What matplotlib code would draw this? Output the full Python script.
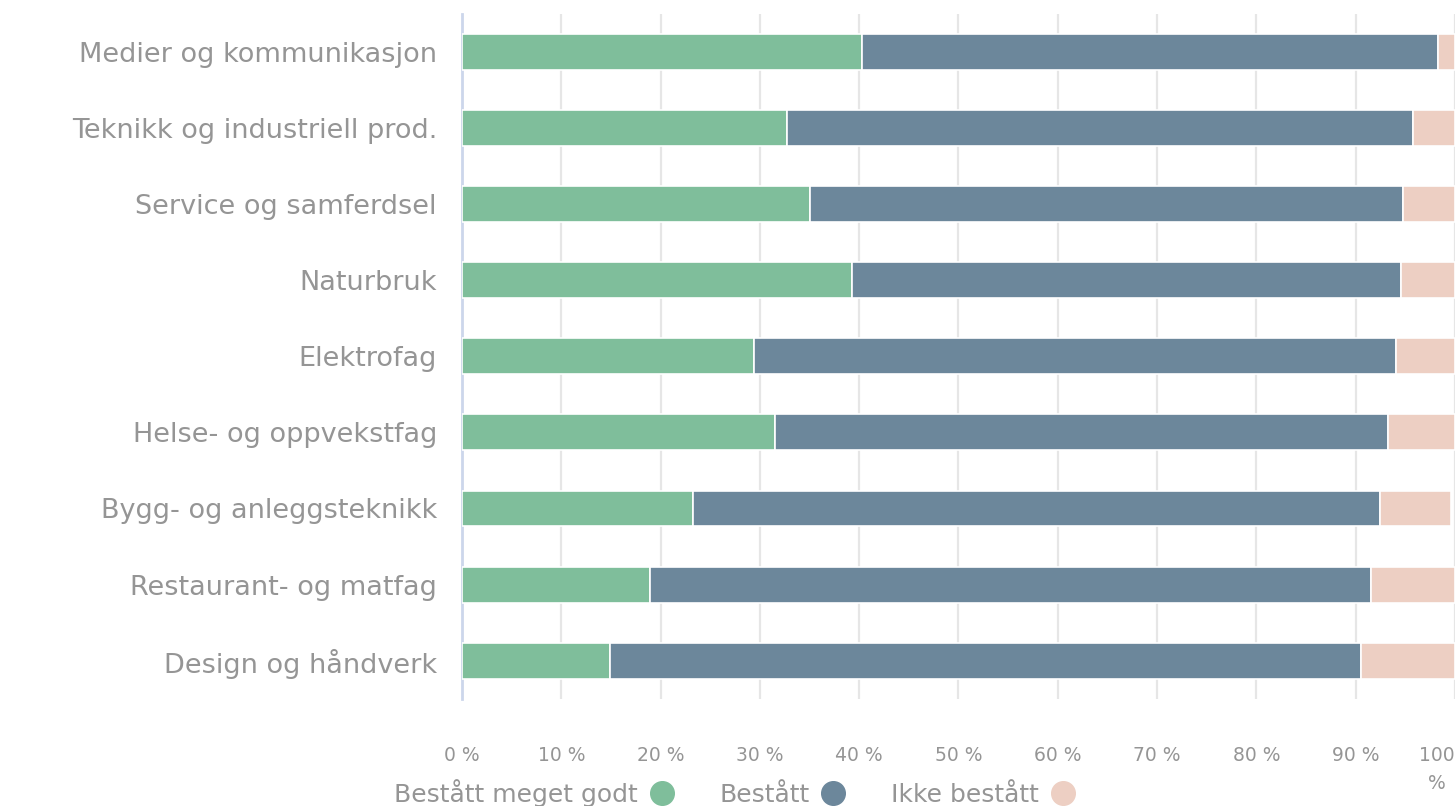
import matplotlib.pyplot as plt
from matplotlib.lines import Line2D

# Kategorier (ovenfra og ned) og andeler i prosent
categories = [
    "Medier og kommunikasjon",
    "Teknikk og industriell prod.",
    "Service og samferdsel",
    "Naturbruk",
    "Elektrofag",
    "Helse- og oppvekstfag",
    "Bygg- og anleggsteknikk",
    "Restaurant- og matfag",
    "Design og håndverk",
]
meget_godt = [40.3, 32.7, 35.0, 39.3, 29.4, 31.5, 23.3, 18.9, 14.9]
bestatt = [58.0, 63.1, 59.8, 55.3, 64.7, 61.8, 69.1, 72.6, 75.6]
ikke_bestatt = [1.7, 4.2, 5.2, 5.4, 5.9, 6.7, 7.2, 8.5, 9.5]

series_names = ["Bestått meget godt", "Bestått", "Ikke bestått"]
colors = ["#7fbe9b", "#6c879b", "#edcfc3"]
tick_values = list(range(0, 101, 10))
tick_labels = [f"{v} %" for v in tick_values[:-1]] + ["100\n%"]

text_color = "#959595"

fig = plt.figure(figsize=(14.55, 8.06), dpi=100)
ax = fig.add_axes([0.3175, 0.133, 0.6825, 0.85])

y = list(range(len(categories)))
left = [0.0] * len(categories)
for vals, col in zip([meget_godt, bestatt, ikke_bestatt], colors):
    ax.barh(y, vals, left=left, height=0.47, color=col, edgecolor="white",
            linewidth=1.2, zorder=3)
    left = [l + v for l, v in zip(left, vals)]

ax.set_xlim(0, 100)
ax.set_ylim(len(categories) - 0.5, -0.5)

ax.set_yticks(y)
ax.set_yticklabels(categories, fontsize=19.5, color=text_color)
ax.tick_params(axis="y", length=0, pad=18)

ax.set_xticks(tick_values)
ax.set_xticklabels(tick_labels, fontsize=13.5, color=text_color,
                   multialignment="center", linespacing=1.6)
ax.get_xticklabels()[-1].set_horizontalalignment("right")
ax.tick_params(axis="x", length=0, pad=34)

ax.grid(axis="x", color="#e6e6e6", linewidth=1.6, zorder=0)
for side in ["top", "right", "bottom"]:
    ax.spines[side].set_visible(False)
ax.spines["left"].set_color("#ccd6eb")
ax.spines["left"].set_linewidth(2)

handles = [Line2D([], [], linestyle="none", marker="o", markersize=17,
                  markerfacecolor=c, markeredgecolor=c) for c in colors]
fig.legend(handles, series_names, loc="center", bbox_to_anchor=(0.505, 0.016),
           ncol=3, frameon=False, markerfirst=False, fontsize=18,
           labelcolor=text_color, handlelength=1.0, handletextpad=0.45,
           columnspacing=1.8)

fig.savefig("out.png", dpi=100)
